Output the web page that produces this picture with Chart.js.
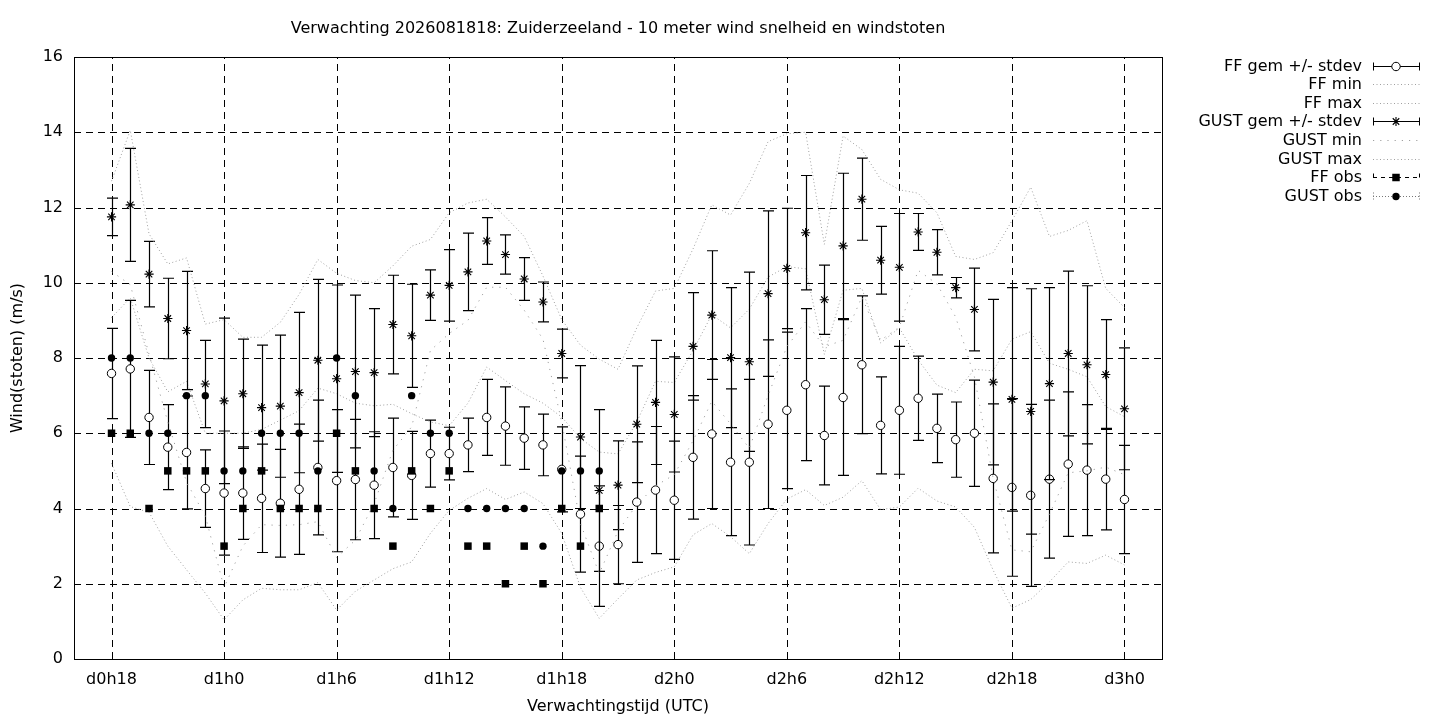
<!DOCTYPE html>
<html>
<head>
<meta charset="utf-8">
<script src="https://cdn.jsdelivr.net/npm/chart.js@4.4.1/dist/chart.umd.min.js"></script>
<style>
html,body{margin:0;padding:0;background:#ffffff;}
#wrap{width:1440px;height:720px;}
</style>
</head>
<body>
<div id="wrap"><canvas id="c" width="1440" height="720"></canvas></div>
<script>
// ---------- data ----------
const titleText = "Verwachting 2026081818: Zuiderzeeland - 10 meter wind snelheid en windstoten";
const xAxisTitle = "Verwachtingstijd (UTC)";
const yAxisTitle = "Wind(stoten) (m/s)";

const tickHours  = [0, 6, 12, 18, 24, 30, 36, 42, 48, 54];
const tickLabels = ["d0h18","d1h0","d1h6","d1h12","d1h18","d2h0","d2h6","d2h12","d2h18","d3h0"];

const hours = [0,1,2,3,4,5,6,7,8,9,10,11,12,13,14,15,16,17,18,19,20,21,22,23,24,25,26,27,
               28,29,30,31,32,33,34,35,36,37,38,39,40,41,42,43,44,45,46,47,48,49,50,51,52,53,54];

const ffMean = [7.59,7.71,6.42,5.63,5.49,4.53,4.41,4.41,4.27,4.14,
                4.51,5.09,4.74,4.77,4.62,5.09,4.88,5.46,5.46,5.69,
                6.42,6.19,5.87,5.69,5.04,3.85,3.00,3.04,4.17,4.49,
                4.22,5.36,5.98,5.23,5.23,6.24,6.61,7.29,5.94,6.95,
                7.82,6.21,6.61,6.93,6.13,5.83,6.00,4.80,4.56,4.35,
                4.78,5.18,5.02,4.78,4.24];
const ffSd   = [1.20,1.82,1.25,1.13,1.50,1.03,1.65,1.23,1.44,1.43,
                1.73,1.79,1.89,1.60,1.42,1.31,1.17,0.89,0.70,0.71,
                1.01,1.04,0.83,0.82,1.13,1.54,1.60,1.04,1.60,1.69,
                1.57,1.64,1.98,1.95,2.20,2.24,2.08,2.02,1.31,2.07,
                1.83,1.29,1.70,1.12,0.91,1.00,1.41,1.98,2.36,2.42,
                2.10,1.92,1.74,1.35,1.44];
const ffMin  = [5.20,4.05,3.90,3.00,2.37,1.75,1.04,1.57,1.88,1.84,
                1.84,2.03,1.30,1.80,2.10,2.40,2.58,3.34,3.95,4.27,
                4.53,4.24,4.44,4.13,3.34,1.90,1.08,1.60,2.10,2.30,
                2.45,3.30,3.60,3.25,2.80,3.60,4.25,4.50,4.08,4.30,
                4.74,3.97,4.04,4.54,4.20,4.04,3.50,2.36,1.35,1.58,
                2.05,2.58,2.54,2.76,2.50];
const ffMax  = [9.07,9.60,8.00,7.10,7.38,6.00,6.00,6.00,6.10,6.35,
                6.60,7.20,7.05,6.80,6.73,6.77,6.52,6.30,6.20,6.80,
                7.76,7.40,7.05,6.80,6.43,5.86,5.50,5.45,6.30,7.38,
                7.35,8.20,9.15,8.80,9.30,10.15,10.43,10.37,8.10,9.80,
                9.85,8.40,8.80,7.95,7.28,7.08,7.70,7.66,8.50,8.70,
                7.86,7.70,7.50,6.71,6.44];
const gustMean = [11.75,12.07,10.23,9.05,8.73,7.31,6.86,7.05,6.68,6.72,
                  7.08,7.94,7.45,7.64,7.61,8.89,8.59,9.67,9.93,10.29,
                  11.11,10.75,10.10,9.49,8.12,5.90,4.48,4.62,6.24,6.82,
                  6.50,8.31,9.14,8.01,7.90,9.71,10.38,11.33,9.55,10.98,
                  12.22,10.60,10.41,11.35,10.81,9.87,9.29,7.36,6.90,6.58,
                  7.32,8.12,7.82,7.56,6.65];
const gustSd   = [0.50,1.50,0.87,1.07,1.57,1.16,2.20,1.45,1.66,1.89,
                  2.13,2.15,2.49,2.03,1.70,1.31,1.37,0.67,0.95,1.03,
                  0.62,0.52,0.57,0.53,0.65,1.90,2.15,1.18,1.55,1.65,
                  1.53,1.43,1.71,1.86,2.38,2.20,1.60,1.52,0.92,1.93,
                  1.09,0.90,1.43,0.49,0.60,0.27,1.10,2.20,2.97,3.26,
                  2.55,2.19,2.10,1.46,1.62];
const gustMin  = [10.30,9.95,8.10,6.30,4.70,3.80,1.90,3.00,3.57,3.55,
                  3.57,3.65,2.70,3.16,4.13,5.55,6.17,8.20,8.65,9.00,
                  9.88,9.88,9.27,8.50,6.30,3.60,2.27,3.40,4.10,4.60,
                  4.90,5.80,6.85,6.25,5.60,7.00,8.30,8.96,8.30,8.47,
                  9.62,8.47,8.82,10.33,9.97,9.09,7.50,4.80,2.90,2.85,
                  3.85,4.95,5.00,5.10,4.90];
const gustMax  = [12.70,14.05,11.30,10.50,10.66,8.90,9.02,8.55,8.55,8.95,
                  9.69,10.62,10.25,10.06,10.00,10.45,10.97,11.15,11.86,12.12,
                  12.22,11.75,11.23,10.18,9.02,8.34,7.97,7.70,8.80,9.78,
                  9.85,10.90,12.07,11.80,12.64,13.75,13.96,14.00,11.02,13.90,
                  13.54,12.75,12.47,12.38,11.86,10.70,10.62,10.80,11.65,12.54,
                  11.23,11.39,11.65,9.85,9.34];
const obsHours = [0,1,2,3,4,5,6,7,8,9,10,11,12,13,14,15,16,17,18,19,20,21,22,23,24,25,26];
const ffObs    = [6,6,4,5,5,5,3,4,5,4,4,4,6,5,4,3,5,4,5,3,3,2,3,2,4,3,4];
const gustObs  = [8,8,6,6,7,7,5,5,6,6,6,5,8,7,5,4,7,6,6,4,4,4,4,3,5,5,5];

// ---------- helpers ----------
const pts = (xs, ys) => xs.map((h, i) => ({x: h, y: ys[i]}));
const FONT = '"DejaVu Sans", "Liberation Sans", sans-serif';
const FSIZE = 16;
const GRAY = '#a0a0a0';

const datasets = [
  {label:'FF gem +/- stdev', data: pts(hours, ffMean), sd: ffSd, showLine:false,
   pointStyle:'circle', pointRadius:4.2, pointBackgroundColor:'#fff', pointBorderColor:'#000', pointBorderWidth:1,
   legendKind:'err', order:8},
  {label:'FF min', data: pts(hours, ffMin), pointRadius:0, borderColor:GRAY, borderWidth:1, borderDash:[1,2.5],
   legendKind:'line', order:7},
  {label:'FF max', data: pts(hours, ffMax), pointRadius:0, borderColor:GRAY, borderWidth:1, borderDash:[1,2.5],
   legendKind:'line', order:6},
  {label:'GUST gem +/- stdev', data: pts(hours, gustMean), sd: gustSd, showLine:false,
   pointStyle:'star', pointRadius:4.6, pointBorderColor:'#000', pointBackgroundColor:'#000', pointBorderWidth:1.1,
   legendKind:'err', order:5},
  {label:'GUST min', data: pts(hours, gustMin), pointRadius:0, borderColor:GRAY, borderWidth:1, borderDash:[1.2,6],
   legendKind:'line', order:4},
  {label:'GUST max', data: pts(hours, gustMax), pointRadius:0, borderColor:GRAY, borderWidth:1, borderDash:[1,2.5],
   legendKind:'line', order:3},
  {label:'FF obs', data: pts(obsHours, ffObs), showLine:false,
   pointStyle:'rect', pointRadius:5.3, pointBackgroundColor:'#000', pointBorderColor:'#000', pointBorderWidth:0,
   legendKind:'obs', legendDash:[4,4], legendColor:'#000', order:2},
  {label:'GUST obs', data: pts(obsHours, gustObs), showLine:false,
   pointStyle:'circle', pointRadius:3.7, pointBackgroundColor:'#000', pointBorderColor:'#000', pointBorderWidth:0,
   legendKind:'obs', legendDash:[1,2], legendColor:'#777', order:1}
];
datasets.forEach(d => { d.type = 'line'; d.tension = 0; d.fill = false; });

// ---------- plugins ----------
const gnuGrid = {
  id: 'gnuGrid',
  beforeDatasetsDraw(chart) {
    const {ctx, chartArea: a, scales: {x, y}} = chart;
    ctx.save();
    ctx.strokeStyle = '#000';
    ctx.lineWidth = 1;
    ctx.setLineDash([7, 5]);
    x.ticks.forEach(t => {
      const px = Math.round(x.getPixelForValue(t.value)) + 0.5;
      ctx.beginPath(); ctx.moveTo(px, a.bottom); ctx.lineTo(px, a.top); ctx.stroke();
    });
    y.ticks.forEach(t => {
      const py = Math.round(y.getPixelForValue(t.value)) + 0.5;
      ctx.beginPath(); ctx.moveTo(a.left, py); ctx.lineTo(a.right, py); ctx.stroke();
    });
    ctx.restore();
  },
  afterDraw(chart) {
    const {ctx, chartArea: a} = chart;
    ctx.save();
    ctx.strokeStyle = '#000';
    ctx.lineWidth = 1;
    ctx.setLineDash([]);
    ctx.strokeRect(Math.round(a.left) + 0.5, Math.round(a.top) + 0.5,
                   Math.round(a.right - a.left), Math.round(a.bottom - a.top));
    ctx.restore();
  }
};

const CAP = 5.5;
const errBars = {
  id: 'errBars',
  beforeDatasetDraw(chart, args) {
    const ds = chart.data.datasets[args.index];
    if (!ds.sd) return;
    const {ctx, chartArea: a, scales: {x, y}} = chart;
    ctx.save();
    ctx.beginPath(); ctx.rect(a.left, a.top, a.right - a.left, a.bottom - a.top); ctx.clip();
    ctx.strokeStyle = '#000';
    ctx.lineWidth = 1.2;
    ctx.setLineDash([]);
    ds.data.forEach((p, i) => {
      const px = Math.round(x.getPixelForValue(p.x)) + 0.5;
      const yt = y.getPixelForValue(p.y + ds.sd[i]);
      const yb = y.getPixelForValue(p.y - ds.sd[i]);
      ctx.beginPath();
      ctx.moveTo(px, yt); ctx.lineTo(px, yb);
      ctx.moveTo(px - CAP, yt); ctx.lineTo(px + CAP, yt);
      ctx.moveTo(px - CAP, yb); ctx.lineTo(px + CAP, yb);
      ctx.stroke();
    });
    ctx.restore();
  }
};

const texts = {
  id: 'texts',
  afterDraw(chart) {
    const {ctx, chartArea: a} = chart;
    ctx.save();
    ctx.fillStyle = '#000';
    ctx.font = FSIZE + 'px ' + FONT;
    ctx.textAlign = 'center';
    ctx.textBaseline = 'middle';
    const cx = (a.left + a.right) / 2;
    ctx.fillText(titleText, cx, 29);
    ctx.fillText(xAxisTitle, cx, 707);
    ctx.save();
    ctx.translate(18, (a.top + a.bottom) / 2);
    ctx.rotate(-Math.PI / 2);
    ctx.fillText(yAxisTitle, 0, 0);
    ctx.restore();

    // legend
    const textRight = 1362, sx0 = 1373, sx1 = 1420, mx = 1396;
    const rowY0 = 65.5, rowStep = 18.6;
    chart.data.datasets.forEach((ds, k) => {
      const ry = Math.round(rowY0 + k * rowStep) + 0.5;
      ctx.fillStyle = '#000';
      ctx.textAlign = 'right';
      ctx.textBaseline = 'middle';
      ctx.font = FSIZE + 'px ' + FONT;
      ctx.fillText(ds.label, textRight, ry);
      ctx.save();
      if (ds.legendKind === 'line') {
        ctx.strokeStyle = ds.borderColor; ctx.lineWidth = 1; ctx.setLineDash(ds.borderDash);
        ctx.beginPath(); ctx.moveTo(sx0, ry); ctx.lineTo(sx1, ry); ctx.stroke();
      } else {
        const col = ds.legendKind === 'err' ? '#000' : ds.legendColor;
        ctx.strokeStyle = col; ctx.lineWidth = 1;
        ctx.setLineDash(ds.legendKind === 'err' ? [] : ds.legendDash);
        ctx.beginPath();
        ctx.moveTo(sx0, ry); ctx.lineTo(sx1, ry);
        ctx.moveTo(sx0 + 0.5, ry - 4); ctx.lineTo(sx0 + 0.5, ry + 4);
        ctx.moveTo(sx1 - 0.5, ry - 4); ctx.lineTo(sx1 - 0.5, ry + 4);
        ctx.stroke();
        ctx.setLineDash([]);
        ctx.fillStyle = ds.pointBackgroundColor;
        ctx.strokeStyle = ds.pointBorderColor;
        ctx.lineWidth = ds.pointBorderWidth || 1;
        Chart.helpers.drawPoint(ctx, {pointStyle: ds.pointStyle, radius: ds.pointRadius,
          rotation: 0, borderWidth: ds.pointBorderWidth}, mx, ry);
      }
      ctx.restore();
    });
    ctx.restore();
  }
};

// ---------- chart ----------
new Chart(document.getElementById('c'), {
  type: 'line',
  data: { datasets },
  options: {
    responsive: false,
    animation: false,
    devicePixelRatio: 1,
    events: [],
    layout: { padding: { left: 0, top: 57, right: 278, bottom: 0 } },
    plugins: { legend: { display: false }, title: { display: false }, tooltip: { enabled: false } },
    scales: {
      x: {
        type: 'linear', min: -2, max: 56,
        afterBuildTicks: s => { s.ticks = tickHours.map(v => ({ value: v })); },
        afterFit: s => { s.height = 61; },
        grid: { display: false, drawTicks: false },
        border: { display: false },
        ticks: {
          autoSkip: false, maxRotation: 0, padding: 11, color: '#000',
          font: { family: FONT, size: FSIZE },
          callback: v => tickLabels[tickHours.indexOf(v)]
        }
      },
      y: {
        type: 'linear', min: 0, max: 16,
        afterFit: s => { s.width = 74; },
        grid: { display: false, drawTicks: false },
        border: { display: false },
        ticks: { stepSize: 2, padding: 11, color: '#000', font: { family: FONT, size: FSIZE } }
      }
    }
  },
  plugins: [gnuGrid, errBars, texts]
});
</script>
</body>
</html>
